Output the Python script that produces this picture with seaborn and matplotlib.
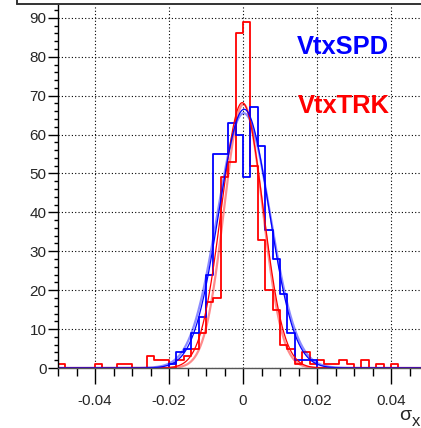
import numpy as np
import pandas as pd
import matplotlib
matplotlib.use("Agg")
import matplotlib.pyplot as plt
from matplotlib.ticker import FixedLocator, FixedFormatter, MultipleLocator
from matplotlib.lines import Line2D
import seaborn as sns

# ---- binning: 50 bins of width 0.002 over [-0.05, 0.05]
x_lo, x_hi, bin_w = -0.05, 0.05, 0.002

# ---- bin contents, left to right
spd_counts = [0, 0, 0, 0, 0, 0, 0, 0, 0, 0, 0, 0, 0, 0, 0,
              1, 4, 5, 9, 13, 24, 55, 55, 63, 60, 49, 67, 57, 35.5, 28,
              19, 9, 2, 2, 2,
              0, 0, 0, 0, 0, 0, 0, 0, 0, 0, 0, 0, 0, 0, 0]
trk_counts = [1, 0, 0, 0, 0, 1, 0, 0, 1, 1, 0, 0, 3, 2, 2,
              0, 2, 3, 5, 9, 17, 18, 49, 53, 86, 89, 52, 33, 20, 15,
              6, 5, 1, 4, 1, 2, 1, 1, 2, 1, 0, 2, 0, 1, 0,
              1, 0, 0, 0, 0]

# ---- gaussian fit parameters (amplitude, mean, sigma)
spd_fit = (66.5, 0.0003, 0.0068)
spd_fit_alt = (65.5, 0.0002, 0.0071)
trk_fit = (68.2, -0.0002, 0.0056)
trk_fit_alt = (67.8, 0.0001, 0.0052)

x_ticks = [-0.04, -0.02, 0.0, 0.02, 0.04]
x_tick_labels = ["-0.04", "-0.02", "0", "0.02", "0.04"]
y_ticks = [0, 10, 20, 30, 40, 50, 60, 70, 80, 90]
y_tick_labels = ["0", "10", "20", "30", "40", "50", "60", "70", "80", "90"]

n_bins = len(spd_counts)
edges = np.linspace(x_lo, x_hi, n_bins + 1)
centers = 0.5 * (edges[:-1] + edges[1:])
hist_df = pd.DataFrame({"sigma_x": centers, "spd": spd_counts, "trk": trk_counts})

sns.set_style("ticks")
plt.rcParams["font.family"] = ["Liberation Sans", "DejaVu Sans"]

W, H = 421, 428
fig = plt.figure(figsize=(W / 100, H / 100), dpi=100)


def fx(px):
    return px / W


def fy(py):
    return 1 - py / H


ax = fig.add_axes([fx(58), fy(368), fx(421) - fx(58), fy(5) - fy(368)])

# dotted grid at the major ticks
ax.set_axisbelow(True)
ax.grid(True, which="major", color="black", linestyle=(0, (1, 2)), linewidth=0.8)

# histograms
sns.histplot(data=hist_df, x="sigma_x", weights="trk", binwidth=bin_w,
             binrange=(x_lo, x_hi), element="step", fill=False,
             color="#ff0000", linewidth=1.3, ax=ax)
sns.histplot(data=hist_df, x="sigma_x", weights="spd", binwidth=bin_w,
             binrange=(x_lo, x_hi), element="step", fill=False,
             color="#0000ff", linewidth=1.3, ax=ax)

# gaussian fits
xs = np.linspace(x_lo, x_hi, 600)


def gauss(p):
    a, m, s = p
    return a * np.exp(-0.5 * ((xs - m) / s) ** 2)


for p, c, lw, al in [(trk_fit_alt, "#ff0000", 1.6, 0.45),
                     (spd_fit_alt, "#0000ff", 1.6, 0.45),
                     (trk_fit, "#ff0000", 0.9, 1.0),
                     (spd_fit, "#0000ff", 0.9, 1.0)]:
    sns.lineplot(x=xs, y=gauss(p), color=c, linewidth=lw, alpha=al,
                 sort=False, estimator=None, ax=ax)

ax.set_xlim(-0.05, 0.0481)
ax.set_ylim(0, 93.3)

# axes styling
for s in ["top", "right"]:
    ax.spines[s].set_visible(False)
ax.spines["left"].set_linewidth(1.0)
ax.spines["bottom"].set_linewidth(1.0)
ax.spines["left"].set_color("black")
ax.spines["bottom"].set_color("#555555")

ax.xaxis.set_major_locator(FixedLocator(x_ticks))
ax.xaxis.set_major_formatter(FixedFormatter(x_tick_labels))
ax.xaxis.set_minor_locator(MultipleLocator(0.005))
ax.yaxis.set_major_locator(FixedLocator(y_ticks))
ax.yaxis.set_major_formatter(FixedFormatter(y_tick_labels))
ax.yaxis.set_minor_locator(MultipleLocator(2))

ax.tick_params(axis="x", which="major", direction="out", length=11.5, width=1,
               pad=7, labelsize=11, color="black")
ax.tick_params(axis="x", which="minor", direction="out", length=5.8, width=1,
               color="black")
ax.tick_params(axis="y", which="major", direction="out", length=7.2, width=1,
               pad=1, labelsize=11, color="black")
ax.tick_params(axis="y", which="minor", direction="out", length=2.9, width=1,
               color="black")
ax.set_xlabel("")
ax.set_ylabel("")

# legend texts
fig.text(fx(297), fy(54), "VtxSPD", color="#0000ff", fontsize=18.4,
         fontweight="bold", ha="left", va="baseline")
fig.text(fx(298), fy(112.7), "VtxTRK", color="#ff0000", fontsize=18.4,
         fontweight="bold", ha="left", va="baseline")

# axis title
fig.text(fx(399.5), fy(419.5), "σ", fontsize=14, ha="left", va="baseline")
fig.text(fx(411.5), fy(425.5), "x", fontsize=12, ha="left", va="baseline")

# frame edge above the pad
fig.add_artist(Line2D([fx(17), fx(421)], [fy(3.5), fy(3.5)], color="#333333",
                      linewidth=1.4, transform=fig.transFigure))
fig.add_artist(Line2D([fx(17), fx(17)], [fy(0), fy(3.5)], color="#333333",
                      linewidth=1.4, transform=fig.transFigure))

fig.savefig("out.png", dpi=100)
